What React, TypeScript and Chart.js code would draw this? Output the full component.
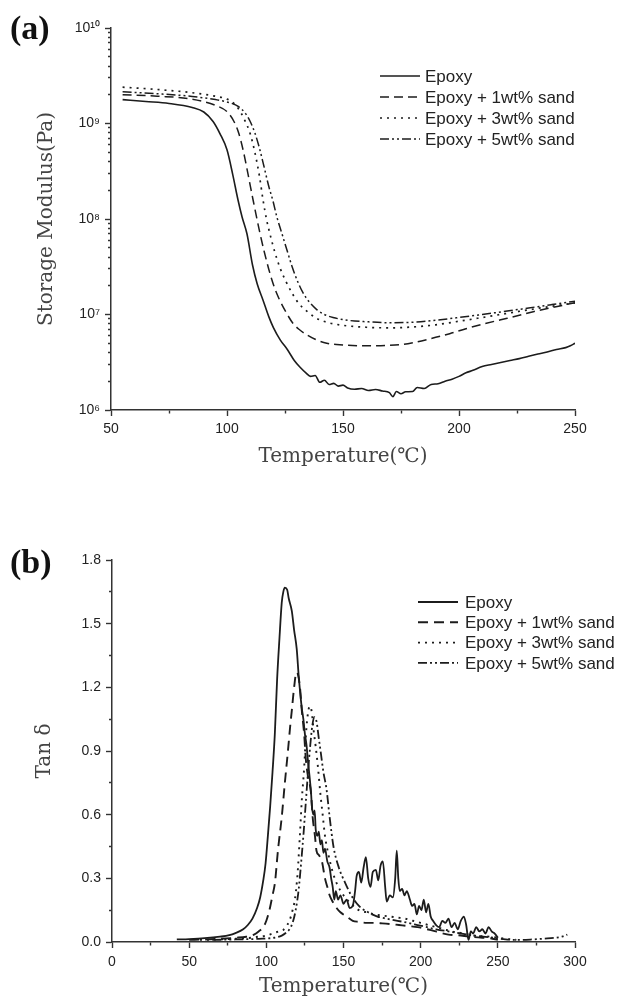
import React, { useEffect, useRef } from 'react';
import { Chart, registerables } from 'chart.js';

Chart.register(...registerables);

// ---------- series labels ----------
const seriesLabels = ['Epoxy', 'Epoxy + 1wt% sand', 'Epoxy + 3wt% sand', 'Epoxy + 5wt% sand'];

// ---------- (a) storage modulus (Pa) vs temperature ----------
const aEpoxyT = [55,65,75,85,90,94,97,100,102.5,104.7,106.5,108.6,111,113,115.5,118,120,123,126,129,131.5,134,136,138,140,142,144,146,148,150,152,155,158,161,164,167,170,171.5,173,175,177,180,182,185,188,191,194,197,200,203,206,210,214,218,222,226,230,234,238,242,246,248,250];
const aEpoxyE = [1.78e9,1.70e9,1.62e9,1.47e9,1.32e9,1.05e9,7.8e8,5.3e8,2.9e8,1.6e8,1.05e8,7.0e7,3.3e7,2.1e7,1.42e7,9.5e6,7.3e6,5.4e6,4.3e6,3.3e6,2.8e6,2.45e6,2.25e6,2.3e6,1.95e6,2.05e6,1.85e6,1.9e6,1.78e6,1.82e6,1.7e6,1.65e6,1.68e6,1.6e6,1.64e6,1.58e6,1.52e6,1.38e6,1.56e6,1.48e6,1.55e6,1.56e6,1.72e6,1.68e6,1.85e6,1.88e6,2.0e6,2.1e6,2.25e6,2.45e6,2.6e6,2.85e6,3.0e6,3.15e6,3.3e6,3.45e6,3.65e6,3.85e6,4.05e6,4.3e6,4.5e6,4.7e6,5.0e6];

const aOneT = [55,70,85,95,100,103,105,107,109,111.2,114.2,116,118.5,120.5,122.8,125.5,128.4,131,134.5,138,143,150,160,170,178,188,196,203,210,218,226,232,240,250];
const aOneE = [2.0e9,1.93e9,1.8e9,1.55e9,1.33e9,1.05e9,8.0e8,5.2e8,3.0e8,1.6e8,7.1e7,4.6e7,2.7e7,1.9e7,1.4e7,1.05e7,8.1e6,7.0e6,6.1e6,5.5e6,5.0e6,4.8e6,4.7e6,4.75e6,4.95e6,5.6e6,6.3e6,7.1e6,7.9e6,8.8e6,9.8e6,1.07e7,1.18e7,1.33e7];

const aThreeT = [55,70,85,95,100,103,105,107.5,110,112,114,115.5,117,118.5,120.5,122.8,125.5,128.4,131,134.5,138,143,150,160,170,180,190,200,210,220,230,240,250];
const aThreeE = [2.4e9,2.27e9,2.1e9,1.93e9,1.8e9,1.62e9,1.42e9,1.1e9,7.8e8,5.0e8,2.8e8,1.6e8,1.0e8,7.0e7,4.6e7,3.1e7,2.2e7,1.62e7,1.3e7,1.08e7,9.3e6,8.3e6,7.7e6,7.35e6,7.25e6,7.4e6,7.8e6,8.5e6,9.3e6,1.02e7,1.12e7,1.22e7,1.32e7];

const aFiveT = [55,70,85,95,100,105,108,110,112,114,116,118,119.8,121.5,123.7,126,128,130.5,132.8,135.5,138.8,142,145.7,152,160,170,180,190,200,210,220,230,240,250];
const aFiveE = [2.15e9,2.05e9,1.92e9,1.78e9,1.68e9,1.5e9,1.27e9,1.05e9,8.0e8,5.5e8,3.5e8,2.2e8,1.55e8,1.05e8,7.0e7,4.6e7,3.2e7,2.2e7,1.68e7,1.35e7,1.12e7,1.0e7,9.3e6,8.7e6,8.4e6,8.2e6,8.3e6,8.7e6,9.3e6,1.0e7,1.08e7,1.17e7,1.27e7,1.38e7];

// ---------- (b) tan delta vs temperature ----------
const bEpoxyT = [42,50,60,70,76,80,85,88,91,94,96,98,99.5,101,102.5,104,105.5,107,108.5,110,111,112,113.5,114.5,116.5,118,119.7,121,122,123,124,125,126,127,128,129,129.5,130.5,131.3,132,133,134,135,136,137,138,139.5,141,142,143,144,145,146.5,148,150,152,154,156,157.5,158.5,160,161.5,163,164.5,166,167.5,169,171,172.5,174,175.5,177,178,180,182,183.5,184.5,185.5,186.5,188,189.5,191,193,194.5,196,197.5,199,200.5,202,203.5,205,206.5,208,210,212,214,216,218,220,222,224,226,228,229.5,231,232.5,234,236,238,240,242,244,246,248,250];
const bEpoxyV = [0.012,0.014,0.018,0.025,0.032,0.042,0.06,0.08,0.11,0.16,0.21,0.29,0.37,0.5,0.64,0.8,0.98,1.24,1.43,1.6,1.65,1.67,1.66,1.62,1.56,1.47,1.38,1.25,1.17,1.1,1.05,0.98,0.93,0.85,0.78,0.7,0.64,0.6,0.62,0.53,0.5,0.52,0.46,0.48,0.42,0.44,0.38,0.35,0.3,0.26,0.2,0.24,0.2,0.22,0.18,0.2,0.16,0.17,0.24,0.31,0.33,0.28,0.35,0.4,0.3,0.26,0.33,0.34,0.29,0.36,0.38,0.26,0.19,0.22,0.21,0.3,0.43,0.3,0.24,0.25,0.22,0.24,0.2,0.17,0.18,0.13,0.17,0.15,0.2,0.14,0.18,0.12,0.1,0.08,0.07,0.1,0.09,0.11,0.07,0.09,0.06,0.1,0.12,0.08,0.01,0.05,0.04,0.07,0.05,0.06,0.04,0.07,0.05,0.04,0.02];

const bOneT = [50,60,70,80,87,92,95,98,100,102,104,105.6,107.5,110,112,114,115.5,116.5,118,119.5,120.5,121.8,123,124.5,125.6,127,129,130,131.5,132.5,134,136,138,139.5,141,143,145.5,148,152,156,160,165,170,175,180,186,192,198,206,212,218,224,232,240,245,250];
const bOneV = [0.01,0.012,0.015,0.02,0.025,0.035,0.05,0.07,0.1,0.15,0.22,0.28,0.43,0.59,0.75,0.9,1.02,1.09,1.2,1.27,1.26,1.2,1.09,0.98,0.86,0.78,0.7,0.59,0.5,0.43,0.41,0.38,0.3,0.26,0.22,0.19,0.16,0.14,0.12,0.1,0.095,0.09,0.09,0.088,0.085,0.08,0.075,0.07,0.057,0.045,0.035,0.032,0.025,0.02,0.018,0.01];

const bThreeT = [57,70,80,90,95,100,104,108,111,113,115,117,118.5,120,120.5,121.8,123,124.5,125.6,126.5,127.5,128.5,129.5,130.6,132,133.5,135,136.5,138,140,143,146,150,155,160,165,170,175,180,185,190,195,200,205,210,215,220,228,235,245,255,262];
const bThreeV = [0.01,0.012,0.015,0.02,0.025,0.03,0.04,0.05,0.057,0.075,0.1,0.15,0.2,0.3,0.35,0.51,0.67,0.82,0.97,1.05,1.1,1.11,1.08,1.0,0.92,0.82,0.7,0.6,0.5,0.42,0.33,0.27,0.22,0.18,0.15,0.14,0.13,0.125,0.12,0.115,0.11,0.1,0.09,0.08,0.07,0.06,0.05,0.04,0.03,0.025,0.015,0.01];

const bFiveT = [65,80,95,105,110,113,115,117,119,121,122.5,124,125.5,127,128.5,129.8,131,132.5,134,135.5,137,139,141,143.5,147,151,155,160,166,172,178,185,192,198,204,210,218,226,235,245,255,265,272,280,287,292,295];
const bFiveV = [0.01,0.012,0.015,0.02,0.03,0.045,0.06,0.09,0.15,0.25,0.37,0.5,0.65,0.8,0.93,1.02,1.06,1.04,0.96,0.88,0.8,0.72,0.59,0.45,0.35,0.28,0.22,0.17,0.14,0.12,0.11,0.1,0.09,0.08,0.07,0.06,0.05,0.04,0.03,0.022,0.012,0.01,0.012,0.016,0.02,0.026,0.035];

// ---------- ticks ----------
const modulusDecades = [1e6, 1e7, 1e8, 1e9, 1e10];
const modulusMinorMultipliers = [2, 3, 4, 5, 6, 7, 8, 9];
const aTempTicks = [50, 75, 100, 125, 150, 175, 200, 225, 250];
const aTempLabels = [50, 100, 150, 200, 250];
const bTempTicks = [0, 25, 50, 75, 100, 125, 150, 175, 200, 225, 250, 275, 300];
const bTempLabels = [0, 50, 100, 150, 200, 250, 300];
const bTanTicks = [0, 0.15, 0.3, 0.45, 0.6, 0.75, 0.9, 1.05, 1.2, 1.35, 1.5, 1.65, 1.8];
const bTanLabels = [0, 0.3, 0.6, 0.9, 1.2, 1.5, 1.8];

// ---------- styles ----------
const INK = '#1c1c1c';
const AXIS = '#333333';
const dashesA = [[], [9, 5], [2, 5], [9, 3, 2, 3, 2, 3]];
const widthsA = [1.6, 1.5, 1.7, 1.5];
const dashesB = [[], [10, 6], [2, 5], [9, 3, 2, 3, 2, 3]];
const widthsB = [1.8, 1.9, 1.9, 1.8];

const SUP: Record<string, string> = { '0': '⁰', '1': '¹', '2': '²', '3': '³', '4': '⁴', '5': '⁵', '6': '⁶', '7': '⁷', '8': '⁸', '9': '⁹' };
const sup = (n: number) => String(n).split('').map((c) => SUP[c] || c).join('');

const pairs = (xs: number[], ys: number[]) => xs.map((x, i) => ({ x, y: ys[i] }));
const near = (list: number[], v: number) => list.some((t) => Math.abs(t - v) < 1e-6);

const modulusTickValues: number[] = [];
modulusDecades.forEach((d, i) => {
  modulusTickValues.push(d);
  if (i < modulusDecades.length - 1) modulusMinorMultipliers.forEach((m) => modulusTickValues.push(m * d));
});
const isDecade = (v: number) => Math.abs(Math.log10(v) - Math.round(Math.log10(v))) < 1e-9;

const insetLegend = {
  id: 'insetLegend',
  afterDatasetsDraw(chart: any, _args: any, opts: any) {
    const { ctx } = chart;
    ctx.save();
    chart.data.datasets.forEach((ds: any, i: number) => {
      const y = opts.top + i * opts.rowGap;
      ctx.strokeStyle = ds.borderColor;
      ctx.lineWidth = ds.borderWidth;
      ctx.setLineDash(ds.borderDash || []);
      ctx.beginPath();
      ctx.moveTo(opts.left, y);
      ctx.lineTo(opts.left + opts.lineLength, y);
      ctx.stroke();
      ctx.setLineDash([]);
      ctx.fillStyle = opts.color;
      ctx.font = opts.font;
      ctx.textBaseline = 'middle';
      ctx.textAlign = 'left';
      ctx.fillText(ds.label, opts.left + opts.lineLength + opts.gap, y + 1);
    });
    ctx.restore();
  },
};

const tickFont = { family: '"Liberation Sans", Arial, sans-serif', size: 14 };
const titleFont = { family: '"DejaVu Serif", serif', size: 20 };

function makeDatasets(series: { x: number; y: number }[][], dashes: number[][], widths: number[]) {
  return series.map((data, i) => ({
    label: seriesLabels[i],
    data,
    borderColor: INK,
    borderWidth: widths[i],
    borderDash: dashes[i],
    pointRadius: 0,
    fill: false,
    cubicInterpolationMode: 'monotone' as const,
  }));
}

function xAxis(min: number, max: number, ticks: number[], labels: number[], height: number, titlePad: number, tickPad: number) {
  return {
    type: 'linear' as const,
    min,
    max,
    afterBuildTicks: (s: any) => {
      s.ticks = ticks.map((v) => ({ value: v }));
    },
    afterFit: (s: any) => {
      s.height = height;
    },
    ticks: {
      autoSkip: false,
      maxRotation: 0,
      padding: tickPad,
      font: tickFont,
      color: '#222',
      callback: (v: any) => (near(labels, Number(v)) ? String(v) : ''),
    },
    grid: {
      drawOnChartArea: false,
      drawTicks: true,
      tickLength: 6,
      tickColor: AXIS,
      tickWidth: 1.4,
      tickBorderDash: (c: any) => (c.tick && near(labels, c.tick.value) ? [] : [3, 100]),
    },
    border: { display: true, color: AXIS, width: 1.5 },
    title: { display: true, text: 'Temperature(℃)', font: titleFont, color: '#444', padding: { top: 0, bottom: titlePad } },
  };
}

function ChartCanvas({ config, width, height, top }: { config: any; width: number; height: number; top: number }) {
  const ref = useRef<HTMLCanvasElement>(null);
  useEffect(() => {
    const chart = new Chart(ref.current as HTMLCanvasElement, config);
    return () => chart.destroy();
  }, []);
  return <canvas ref={ref} width={width} height={height} style={{ position: 'absolute', left: 0, top, width, height, display: 'block' }} />;
}

const configA = {
  type: 'line',
  data: {
    datasets: makeDatasets(
      [pairs(aEpoxyT, aEpoxyE), pairs(aOneT, aOneE), pairs(aThreeT, aThreeE), pairs(aFiveT, aFiveE)],
      dashesA,
      widthsA
    ),
  },
  options: {
    responsive: false,
    animation: false,
    events: [],
    layout: { padding: { left: 0, top: 28, right: 44, bottom: 0 } },
    plugins: {
      legend: { display: false },
      tooltip: { enabled: false },
      insetLegend: { left: 380, top: 76, rowGap: 21, lineLength: 40, gap: 5, font: '17px "Liberation Sans", Arial, sans-serif', color: '#222' },
    },
    scales: {
      x: xAxis(50, 250, aTempTicks, aTempLabels, 80, 21, 5),
      y: {
        type: 'logarithmic',
        min: 1e6,
        max: 1e10,
        afterBuildTicks: (s: any) => {
          s.ticks = modulusTickValues.map((v) => ({ value: v }));
        },
        afterFit: (s: any) => {
          s.width = 111;
        },
        ticks: {
          autoSkip: false,
          padding: 5,
          font: tickFont,
          color: '#222',
          callback: (v: any) => (isDecade(Number(v)) ? '10' + sup(Math.round(Math.log10(Number(v)))) : ''),
        },
        grid: {
          drawOnChartArea: false,
          drawTicks: true,
          tickLength: 6,
          tickColor: AXIS,
          tickWidth: 1.4,
          tickBorderDash: (c: any) => (c.tick && isDecade(c.tick.value) ? [] : [0, 3, 3, 100]),
        },
        border: { display: true, color: AXIS, width: 1.5 },
        title: { display: true, text: 'Storage Modulus(Pa)', font: titleFont, color: '#444', padding: { top: 35, bottom: 0 } },
      },
    },
  },
  plugins: [insetLegend],
};

const configB = {
  type: 'line',
  data: {
    datasets: makeDatasets(
      [pairs(bEpoxyT, bEpoxyV), pairs(bOneT, bOneV), pairs(bThreeT, bThreeV), pairs(bFiveT, bFiveV)],
      dashesB,
      widthsB
    ),
  },
  options: {
    responsive: false,
    animation: false,
    events: [],
    layout: { padding: { left: 0, top: 70, right: 44, bottom: 0 } },
    plugins: {
      legend: { display: false },
      tooltip: { enabled: false },
      insetLegend: { left: 418, top: 112, rowGap: 20.3, lineLength: 40, gap: 7, font: '17px "Liberation Sans", Arial, sans-serif', color: '#222' },
    },
    scales: {
      x: xAxis(0, 300, bTempTicks, bTempLabels, 59, 2, 6),
      y: {
        type: 'linear',
        min: 0,
        max: 1.8,
        afterBuildTicks: (s: any) => {
          s.ticks = bTanTicks.map((v) => ({ value: v }));
        },
        afterFit: (s: any) => {
          s.width = 112;
        },
        ticks: {
          autoSkip: false,
          padding: 5,
          font: tickFont,
          color: '#222',
          callback: (v: any) => (near(bTanLabels, Number(v)) ? Number(v).toFixed(1) : ''),
        },
        grid: {
          drawOnChartArea: false,
          drawTicks: true,
          tickLength: 6,
          tickColor: AXIS,
          tickWidth: 1.4,
          tickBorderDash: (c: any) => (c.tick && near(bTanLabels, c.tick.value) ? [] : [0, 3, 3, 100]),
        },
        border: { display: true, color: AXIS, width: 1.5 },
        title: { display: true, text: 'Tan δ', font: titleFont, color: '#444', padding: { top: 33, bottom: 0 } },
      },
    },
  },
  plugins: [insetLegend],
};

const panelLabel: React.CSSProperties = {
  position: 'absolute',
  left: 10,
  fontFamily: '"Liberation Serif", "Times New Roman", serif',
  fontWeight: 'bold',
  fontSize: 34,
  lineHeight: '40px',
  color: '#111',
};

export default function App() {
  return (
    <div style={{ position: 'absolute', left: 0, top: 0, width: 619, height: 1001, background: '#fff', overflow: 'hidden' }}>
      <ChartCanvas config={configA} width={619} height={490} top={0} />
      <ChartCanvas config={configB} width={619} height={511} top={490} />
      <div style={{ ...panelLabel, top: 8 }}>(a)</div>
      <div style={{ ...panelLabel, top: 542 }}>(b)</div>
    </div>
  );
}
